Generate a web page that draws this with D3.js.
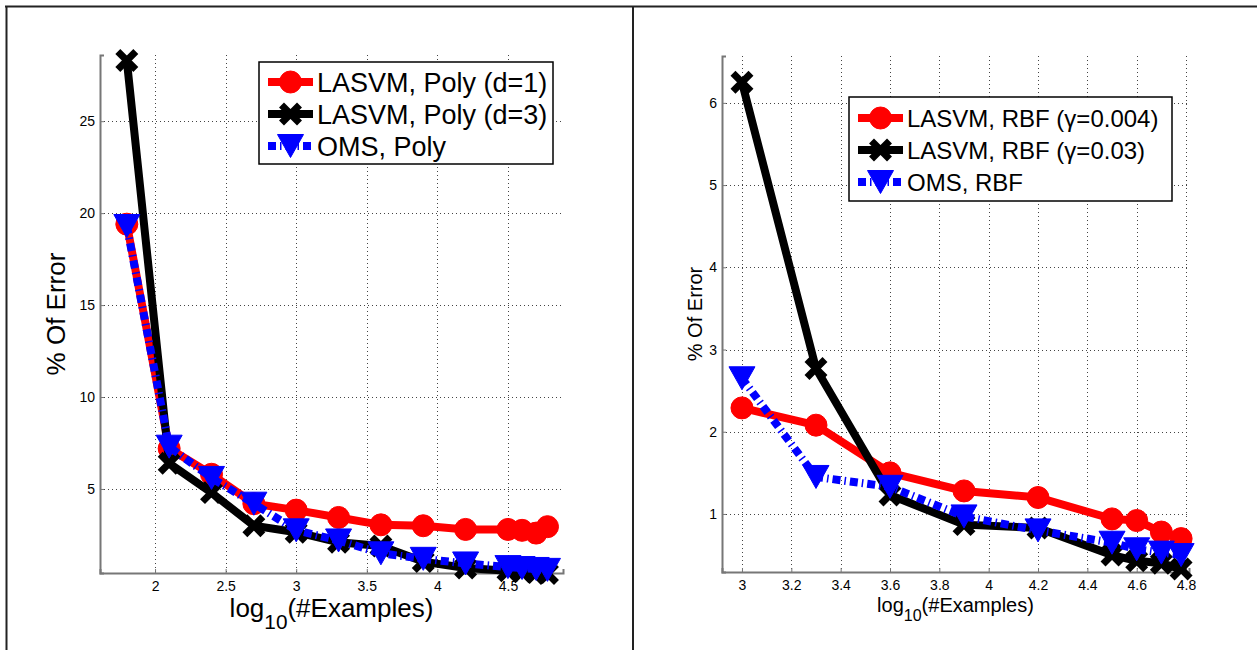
<!DOCTYPE html>
<html>
<head>
<meta charset="utf-8">
<script src="https://cdn.jsdelivr.net/npm/d3@7"></script>
<style>
body { margin: 0; background: #fff; }
text { font-family: "Liberation Sans", Arial, sans-serif; fill: #000; }
</style>
</head>
<body>
<svg id="chart" width="1257" height="650"></svg>
<script>
// left panel: polynomial kernels, x = log10(#examples)
var polyX = [1.8, 2.1, 2.4, 2.7, 3.0, 3.3, 3.6, 3.9, 4.2, 4.5, 4.6, 4.7, 4.78];
var lasvmPolyD1 = [19.4, 7.2, 5.8, 4.2, 3.85, 3.45, 3.05, 3.0, 2.8, 2.8, 2.75, 2.6, 2.95];
var lasvmPolyD3 = [28.3, 6.4, 4.8, 3.0, 2.65, 2.1, 1.9, 1.05, 0.7, 0.55, 0.5, 0.45, 0.4];
var omsPoly = [19.3, 7.3, 5.6, 4.2, 2.75, 2.2, 1.5, 1.2, 0.95, 0.75, 0.7, 0.65, 0.6];
var polyXTicks = [2, 2.5, 3, 3.5, 4, 4.5];
var polyYTicks = [5, 10, 15, 20, 25];
var polyLabels = ["LASVM, Poly (d=1)", "LASVM, Poly (d=3)", "OMS, Poly"];

// right panel: RBF kernels
var rbfX = [3.0, 3.3, 3.6, 3.9, 4.2, 4.5, 4.6, 4.7, 4.78];
var lasvmRbfA = [2.29, 2.08, 1.5, 1.28, 1.2, 0.94, 0.92, 0.78, 0.7];
var lasvmRbfB = [6.25, 2.77, 1.23, 0.87, 0.83, 0.5, 0.43, 0.4, 0.33];
var omsRbf = [2.65, 1.45, 1.33, 0.97, 0.8, 0.65, 0.57, 0.53, 0.5];
var rbfXTicks = [3, 3.2, 3.4, 3.6, 3.8, 4, 4.2, 4.4, 4.6, 4.8];
var rbfYTicks = [1, 2, 3, 4, 5, 6];
var rbfLabels = ["LASVM, RBF (\u03b3=0.004)", "LASVM, RBF (\u03b3=0.03)", "OMS, RBF"];

var svg = d3.select("#chart");

// page frame around the two figures
svg.append("g").attr("stroke", "#222").attr("stroke-width", 2)
   .selectAll("line")
   .data([[5, 6.5, 1257, 6.5], [6.5, 6, 6.5, 650], [633, 6, 633, 650]])
   .enter().append("line")
   .attr("x1", function(d) { return d[0]; })
   .attr("y1", function(d) { return d[1]; })
   .attr("x2", function(d) { return d[2]; })
   .attr("y2", function(d) { return d[3]; });

var styles = [
    {color: "#ff0000", marker: "circle", dash: null},
    {color: "#000000", marker: "cross", dash: null},
    {color: "#0000ff", marker: "tri", dash: "8,4,1.5,4"}
];

function drawMarker(g, type, cx, cy, color) {
    if (type === "circle") {
        g.append("circle").attr("cx", cx).attr("cy", cy).attr("r", 11)
         .attr("fill", color).attr("stroke", color).attr("stroke-width", 1);
    } else if (type === "cross") {
        var s = 9;
        g.append("path")
         .attr("d", "M" + (cx - s) + "," + (cy - s) + "L" + (cx + s) + "," + (cy + s) +
                    "M" + (cx - s) + "," + (cy + s) + "L" + (cx + s) + "," + (cy - s))
         .attr("stroke", color).attr("stroke-width", 7).attr("fill", "none");
    } else {
        var w = 13, h = 11.5;
        g.append("path")
         .attr("d", "M" + (cx - w) + "," + (cy - h) + "L" + (cx + w) + "," + (cy - h) +
                    "L" + cx + "," + (cy + h) + "Z")
         .attr("fill", color).attr("stroke", color).attr("stroke-width", 1);
    }
}

function drawPanel(p) {
    var x = d3.scaleLinear().domain(p.xDomain).range([p.left, p.right]);
    var y = d3.scaleLinear().domain(p.yDomain).range([p.bottom, p.top]);
    var g = svg.append("g");

    // dotted grid
    var grid = g.append("g").attr("stroke", "#444").attr("stroke-width", 1)
                .attr("stroke-dasharray", "1,3");
    grid.selectAll(".vg").data(p.xTicks).enter().append("line")
        .attr("x1", function(d) { return Math.round(x(d)) + 0.5; })
        .attr("x2", function(d) { return Math.round(x(d)) + 0.5; })
        .attr("y1", p.top).attr("y2", p.bottom);
    grid.selectAll(".hg").data(p.yTicks).enter().append("line")
        .attr("y1", function(d) { return Math.round(y(d)) + 0.5; })
        .attr("y2", function(d) { return Math.round(y(d)) + 0.5; })
        .attr("x1", p.left).attr("x2", p.right);

    // axes
    var xAxis = g.append("g").attr("transform", "translate(0," + p.bottom + ")")
        .call(d3.axisBottom(x).tickValues(p.xTicks).tickSize(-4).tickPadding(8)
              .tickFormat(d3.format("")));
    var yAxis = g.append("g").attr("transform", "translate(" + p.left + ",0)")
        .call(d3.axisLeft(y).tickValues(p.yTicks).tickSize(-4).tickPadding(5)
              .tickFormat(d3.format("")));
    [xAxis, yAxis].forEach(function(a) {
        a.select(".domain").attr("stroke", "#777").attr("stroke-width", 2);
        a.selectAll(".tick line").attr("stroke", "#777");
        a.selectAll(".tick text").style("font-size", p.tickFont + "px")
         .style("font-family", "'Liberation Sans', Arial, sans-serif");
    });

    // series, drawn in order so later ones sit on top
    var line = d3.line().x(function(d) { return x(d[0]); }).y(function(d) { return y(d[1]); });
    p.series.forEach(function(vals, i) {
        var st = styles[i];
        var pts = p.xs.map(function(v, j) { return [v, vals[j]]; });
        var sg = g.append("g");
        sg.append("path").datum(pts).attr("d", line)
          .attr("fill", "none").attr("stroke", st.color).attr("stroke-width", 8)
          .attr("stroke-dasharray", st.dash);
        pts.forEach(function(d) { drawMarker(sg, st.marker, x(d[0]), y(d[1]), st.color); });
    });

    // legend
    var L = p.legend;
    var lg = g.append("g");
    lg.append("rect").attr("x", L.x).attr("y", L.y).attr("width", L.w).attr("height", L.h)
      .attr("fill", "#fff").attr("stroke", "#000").attr("stroke-width", 1.5);
    p.labels.forEach(function(name, i) {
        var st = styles[i];
        var cy = L.y + L.row0 + i * L.step;
        lg.append("line").attr("x1", L.x + 9).attr("x2", L.x + 54)
          .attr("y1", cy).attr("y2", cy)
          .attr("stroke", st.color).attr("stroke-width", 8)
          .attr("stroke-dasharray", st.dash);
        drawMarker(lg, st.marker, L.x + 31.5, cy, st.color);
        lg.append("text").attr("x", L.x + 58).attr("y", cy)
          .attr("dy", "0.36em").style("font-size", L.font + "px").text(name);
    });

    // axis titles
    var xt = g.append("text").attr("x", (p.left + p.right) / 2).attr("y", p.xTitleY)
              .attr("text-anchor", "middle").style("font-size", p.titleFont + "px");
    xt.append("tspan").text("log");
    xt.append("tspan").attr("dy", p.titleFont * 0.45).style("font-size", (p.titleFont * 0.8) + "px").text("10");
    xt.append("tspan").attr("dy", -p.titleFont * 0.45).text("(#Examples)");

    g.append("text")
     .attr("transform", "translate(" + p.yTitleX + "," + ((p.top + p.bottom) / 2) + ") rotate(-90)")
     .attr("text-anchor", "middle").attr("dy", "0.36em")
     .style("font-size", p.titleFont + "px").text("% Of Error");
}

drawPanel({
    left: 100, right: 563, top: 55, bottom: 573,
    xDomain: [1.61, 4.89], yDomain: [0.43, 28.6],
    xTicks: polyXTicks, yTicks: polyYTicks,
    xs: polyX, series: [lasvmPolyD1, lasvmPolyD3, omsPoly], labels: polyLabels,
    tickFont: 14, titleFont: 26, xTitleY: 617, yTitleX: 56,
    legend: {x: 259, y: 62, w: 294, h: 102, row0: 20, step: 32, font: 27}
});

drawPanel({
    left: 722, right: 1189, top: 56, bottom: 572,
    xDomain: [2.919, 4.812], yDomain: [0.294, 6.57],
    xTicks: rbfXTicks, yTicks: rbfYTicks,
    xs: rbfX, series: [lasvmRbfA, lasvmRbfB, omsRbf], labels: rbfLabels,
    tickFont: 14, titleFont: 20, xTitleY: 612, yTitleX: 695,
    legend: {x: 849, y: 97, w: 323, h: 104, row0: 21, step: 32, font: 24}
});
</script>
</body>
</html>
